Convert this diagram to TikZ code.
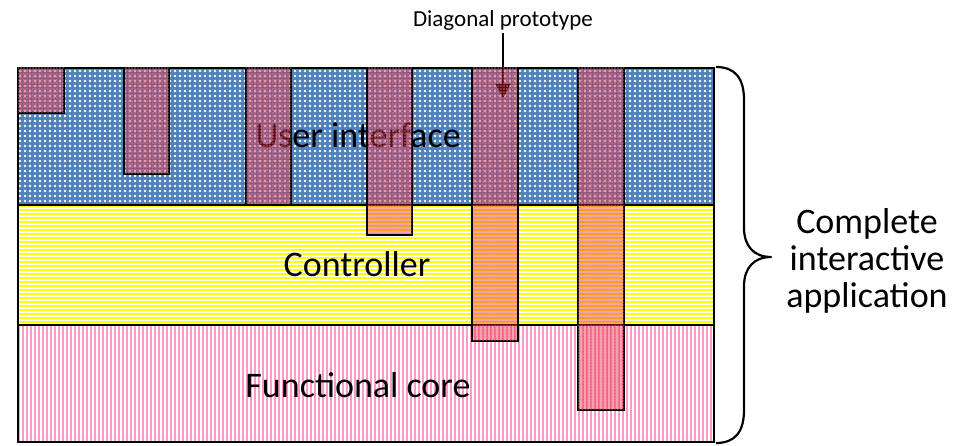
\documentclass[tikz,border=0pt]{standalone}
\usepackage{fontspec}
\setmainfont{Carlito}
\usetikzlibrary{patterns.meta,arrows.meta}

\definecolor{uiblue}{RGB}{79,129,189}
\definecolor{ctlyellow}{RGB}{255,255,0}
\definecolor{corepink}{RGB}{255,153,204}
\definecolor{slicered}{RGB}{230,30,50}
\definecolor{slicedot}{RGB}{255,165,175}

\tikzset{
  frame/.style={draw=black, line width=2.2pt},
  uilayer/.style={fill=uiblue,
    postaction={pattern={Dots[distance=5pt,radius=1.4pt]}, pattern color=white}},
  ctlstripe/.style={draw=ctlyellow, line width=2.2pt},
  corestripe/.style={draw=corepink, line width=2.8pt},
  slice/.style={fill=slicered, fill opacity=0.42, draw=black, draw opacity=1, line width=2.2pt,
    postaction={pattern={Dots[distance=3pt,radius=0.8pt]}, pattern color=slicedot, fill opacity=0.55}},
  biglabel/.style={font=\fontsize{36}{37}\selectfont, inner sep=0pt},
  smalllabel/.style={font=\fontsize{23}{26}\selectfont, inner sep=2pt},
}

\begin{document}
\begin{tikzpicture}[x=1pt,y=-1pt]
\useasboundingbox (0,0) rectangle (954,446);

% user interface layer: blue with a white dot grid
\path[uilayer] (18,68) rectangle (714,205);

% controller layer: yellow horizontal stripes
\begin{scope}
  \clip (18,205) rectangle (714,325);
  \foreach \yy in {206,210,...,326}
    \draw[ctlstripe] (18,\yy) -- (714,\yy);
\end{scope}

% functional core layer: pink vertical stripes
\begin{scope}
  \clip (18,325) rectangle (714,442);
  \foreach \xx in {19,23,...,715}
    \draw[corestripe] (\xx,325) -- (\xx,442);
\end{scope}

\draw[frame] (18,68) rectangle (714,442);
\draw[frame] (18,205) -- (714,205);
\draw[frame] (18,325) -- (714,325);

% layer names
\node[biglabel, anchor=base] (uilbl)   at (358,148) {User interface};
\node[biglabel, anchor=base] (ctllbl)  at (357,277) {Controller};
\node[biglabel, anchor=base] (corelbl) at (358,398) {Functional core};

% label and arrow pointing into one of the vertical slices
\node[smalllabel, anchor=base] (proto) at (503,27) {Diagonal prototype};
\coordinate (protoTip) at (503,98);
\draw[line width=1.5pt, -{Triangle[length=14pt,width=15pt]}] (proto) -- (protoTip);

% vertical slices cutting through the layers
\draw[slice] (18,68)  rectangle (64,113);
\draw[slice] (124,68) rectangle (169,174);
\draw[slice] (246,68) rectangle (291,205);
\draw[slice] (367,68) rectangle (412,235);
\draw[slice] (472,68) rectangle (518,341);
\draw[slice] (578,68) rectangle (624,410);

% curly brace spanning the whole stack
\draw[line width=2.2pt, line join=round]
  (716,67) .. controls (735,67) and (744,78) .. (744,100)
  -- (744,228) .. controls (744,246) and (754,257) .. (771,257)
  .. controls (754,257) and (744,268) .. (744,286)
  -- (744,410) .. controls (744,432) and (735,443) .. (716,443);

\node[biglabel, align=center] (app) at (867,261) {Complete\\interactive\\application};
\end{tikzpicture}
\end{document}
